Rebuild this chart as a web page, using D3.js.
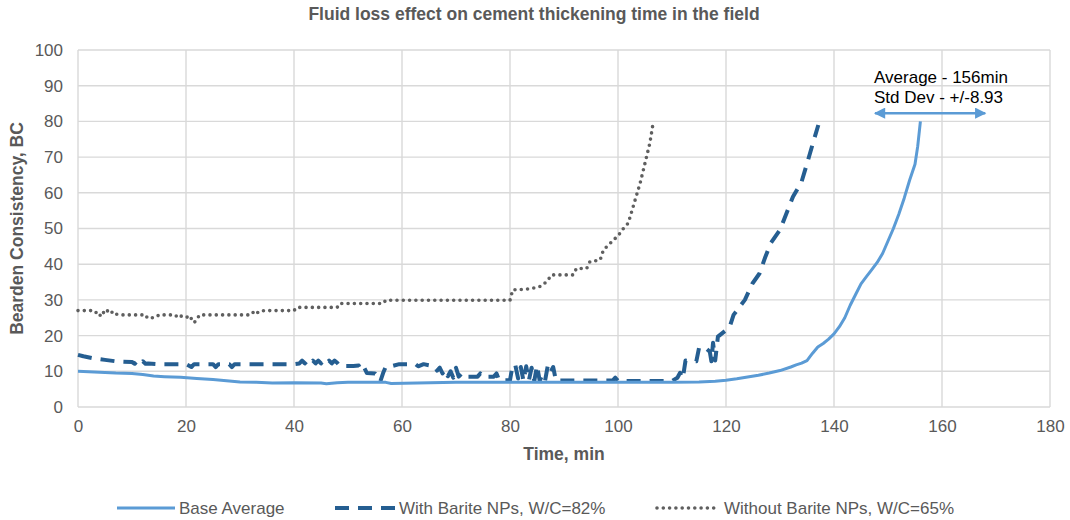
<!DOCTYPE html>
<html>
<head>
<meta charset="utf-8">
<script src="https://cdn.jsdelivr.net/npm/d3@7"></script>
<style>
  body { margin: 0; background: #fff; }
  svg { display: block; font-family: "Liberation Sans", Arial, sans-serif; }
</style>
</head>
<body>
<script>
// Base Average
var baseTime = [0, 3, 7, 10, 12, 14, 16, 19, 22, 25, 28, 30, 33, 36, 40, 45, 46, 48, 50, 57, 58, 70, 80, 90, 100, 110, 115, 118, 120, 122, 124, 126, 128, 130, 132, 133, 134, 135, 136, 137, 138, 139, 140, 141, 142, 143, 144, 145, 146, 147, 148, 149, 150, 151, 152, 153, 154, 155, 155.5, 156]
var baseVal  = [10, 9.8, 9.5, 9.4, 9.1, 8.7, 8.5, 8.3, 8.0, 7.7, 7.3, 7.0, 6.9, 6.7, 6.8, 6.7, 6.5, 6.8, 6.9, 6.9, 6.6, 6.9, 6.9, 6.9, 6.9, 6.9, 7.0, 7.2, 7.5, 7.9, 8.4, 8.9, 9.5, 10.2, 11.2, 11.8, 12.3, 13.0, 15.0, 16.8, 17.8, 19.0, 20.5, 22.5, 25.0, 28.5, 31.5, 34.5, 36.5, 38.5, 40.5, 43.0, 46.5, 50, 54, 58.5, 63.5, 68, 73, 80]

// With Barite NPs, W/C=82%
var withTime = [0, 1, 3, 5, 7, 10, 10.5, 11, 11.5, 12, 12.5, 13, 15, 20, 21, 21.5, 25, 25.5, 26, 28, 28.5, 29, 40,
  41, 41.5, 42, 42.5, 43, 43.5, 44, 44.5, 45, 45.5, 46, 46.5, 47, 47.5, 48, 48.5, 51, 52, 52.5, 53, 53.5, 55, 55.5, 56, 56.5, 57, 58, 59.5, 62.5, 63, 64, 66, 66.5,
  67, 67.5, 68, 68.5, 69, 69.5, 70, 70.5, 71, 71.5, 72, 74, 74.5, 75, 77, 77.5, 78, 80, 80.5, 81,
  81.5, 82, 82.5, 83, 83.5, 84, 84.5, 85, 85.5, 86, 86.5, 87, 87.5, 88, 88.5, 99, 99.5, 100, 110, 111,
  111.5, 112, 112.5, 114.5, 115, 116, 117, 117.3, 117.6, 118, 118.5, 120, 120.7, 121.4, 122.5, 123.5, 124.9, 126.2,
  127.3, 128.3, 130, 132.4, 134, 135.2, 136.1, 137.1]
var withVal = [14.6, 14.2, 13.6, 13.2, 12.8, 12.6, 12.1, 12.9, 12.1, 12.8, 12.1, 12.2, 12.0, 12.0, 11.2, 12, 12, 11.2, 12, 12, 11.2, 12, 12.0,
  12.2, 13.0, 12.2, 13.0, 12.2, 13.0, 12.2, 13.0, 12.2, 13.0, 12.2, 13.0, 12.2, 13.0, 12.4, 11.5, 11.5, 11.6, 10.2, 11, 9.5, 9.4, 8.6, 7.2, 9.5, 11.3, 11.4, 12, 12, 11.4, 12, 11.4, 10.2,
  11, 9.4, 10.5, 8.6, 10, 8.2, 11, 8.5, 9.3, 8.4, 8.5, 8.5, 9.4, 8.5, 8.5, 9.4, 7.5, 7.5, 11.8, 11.6,
  8, 11.2, 7.3, 11.4, 7.5, 11, 7.3, 11.6, 7.4, 9, 7.4, 11.6, 9.8, 11.2, 7.4, 7.4, 8.2, 7.3, 7.3, 8.2,
  9.6, 8, 13, 12.8, 16.5, 16.8, 15.5, 12.8, 18, 13, 19.7, 21.5, 22.5, 25.8, 28, 30, 34.6, 37.4,
  42.1, 45.9, 49.6, 58.9, 63.1, 69.2, 73.9, 79]

// Without Barite NPs, W/C=65%
var withoutTime = [0, 3, 3.5, 4, 4.5, 5, 5.5, 6, 6.5, 7, 8, 12, 12.5, 13, 13.5, 14.5, 15, 18, 18.5, 19,
  20, 20.7, 21, 21.5, 22, 22.5, 32, 32.5, 33, 33.5, 34.6, 40, 40.5, 48, 48.5, 56.5, 57, 80, 80.5, 83,
  85, 86, 87, 87.7, 91.7, 92.3, 94.2, 94.8, 96.7, 97.3, 99, 99.8, 100.4, 101, 101.9, 102.8, 104.1, 105, 105.9, 106.5, 106.8]
var withoutVal = [27, 27, 26.2, 25.4, 26.8, 26, 27, 26.2, 26.8, 26, 25.8, 25.8, 25, 25.4, 24.9, 25.2, 25.8, 25.8, 25, 25.5,
  25, 25.6, 24.7, 23.6, 24.5, 25.8, 25.8, 26.6, 26, 26.8, 27, 27, 27.9, 27.9, 29, 29, 29.9, 29.9, 32.8, 33,
  33.5, 34, 35.5, 37, 37, 38.8, 38.8, 40.7, 41.2, 44, 46.5, 47.7, 48.7, 50, 51.5, 56.1, 62.7, 68.3, 73.9, 79.5, 80]

var xTicks = [0, 20, 40, 60, 80, 100, 120, 140, 160, 180]
var yTicks = [0, 10, 20, 30, 40, 50, 60, 70, 80, 90, 100]

// annotation: average thickening time and spread arrow
var annoLines = ["Average - 156min", "Std Dev - +/-8.93"]
var arrowX = [147.6, 168]
var arrowY = 82.3

var seriesNames = ["Base Average", "With Barite NPs, W/C=82%", "Without Barite NPs, W/C=65%"]

var width = 1070
var height = 520
var margin = {top: 50, right: 20, bottom: 113, left: 78}
var innerW = width - margin.left - margin.right
var innerH = height - margin.top - margin.bottom

var textGray = "#595959"
var gridGray = "#d9d9d9"

var styles = [
  {color: "#5b9bd5", w: 3, dash: null, cap: "butt"},
  {color: "#255e91", w: 4, dash: "14,9", cap: "butt"},
  {color: "#5f5f5f", w: 3.6, dash: "0,6.3", cap: "round"}
]

var svg = d3.select("body").append("svg")
    .attr("width", width)
    .attr("height", height)

var g = svg.append("g")
    .attr("transform", `translate(${margin.left},${margin.top})`)

var x = d3.scaleLinear().domain([0, 180]).range([0, innerW])
var y = d3.scaleLinear().domain([0, 100]).range([innerH, 0])

// gridlines
g.append("g").selectAll("line.h")
  .data(yTicks)
  .enter().append("line")
  .attr("x1", 0).attr("x2", innerW)
  .attr("y1", d => y(d)).attr("y2", d => y(d))
  .attr("stroke", gridGray).attr("stroke-width", 1.4)

g.append("g").selectAll("line.v")
  .data(xTicks)
  .enter().append("line")
  .attr("y1", 0).attr("y2", innerH)
  .attr("x1", d => x(d)).attr("x2", d => x(d))
  .attr("stroke", gridGray).attr("stroke-width", 1.4)

// axes (labels only)
var xAxis = d3.axisBottom(x).tickValues(xTicks).tickSize(0).tickPadding(13)
var yAxis = d3.axisLeft(y).tickValues(yTicks).tickSize(0).tickPadding(15)

var xa = g.append("g").attr("transform", `translate(0,${innerH})`).call(xAxis)
var ya = g.append("g").call(yAxis)
;[xa, ya].forEach(a => {
  a.select(".domain").remove()
  a.selectAll("text")
    .style("font-family", "Liberation Sans, Arial, sans-serif")
    .style("font-size", "17px")
    .attr("fill", textGray)
})

// series lines
var line = d3.line().x(d => x(d[0])).y(d => y(d[1]))
var series = [
  d3.zip(baseTime, baseVal),
  d3.zip(withTime, withVal),
  d3.zip(withoutTime, withoutVal)
]

// draw dotted first, then dashed, then base on top
;[2, 1, 0].forEach(i => {
  var s = styles[i]
  g.append("path")
    .datum(series[i])
    .attr("d", line)
    .attr("fill", "none")
    .attr("stroke", s.color)
    .attr("stroke-width", s.w)
    .attr("stroke-linecap", s.cap)
    .attr("stroke-linejoin", "round")
    .attr("stroke-dasharray", s.dash)
})

// annotation arrow
var defs = svg.append("defs")
defs.append("marker")
    .attr("id", "arr")
    .attr("viewBox", "0 0 10 10")
    .attr("refX", 9).attr("refY", 5)
    .attr("markerWidth", 5.5).attr("markerHeight", 4.5)
    .attr("markerUnits", "strokeWidth")
    .attr("orient", "auto-start-reverse")
  .append("path")
    .attr("d", "M0,0 L10,5 L0,10 Z")
    .attr("fill", "#5b9bd5")

g.append("line")
  .attr("x1", x(arrowX[0])).attr("x2", x(arrowX[1]))
  .attr("y1", y(arrowY)).attr("y2", y(arrowY))
  .attr("stroke", "#5b9bd5").attr("stroke-width", 2.5)
  .attr("marker-start", "url(#arr)")
  .attr("marker-end", "url(#arr)")

g.selectAll("text.anno")
  .data(annoLines)
  .enter().append("text")
  .attr("class", "anno")
  .attr("x", x(arrowX[0]) - 1)
  .attr("y", (d, i) => y(arrowY) - 30 + i * 19.5)
  .style("font-size", "17px")
  .attr("fill", "#000")
  .text(d => d)

// titles
svg.append("text")
  .attr("x", 534).attr("y", 19.5)
  .attr("text-anchor", "middle")
  .style("font-size", "17.5px").style("font-weight", "bold")
  .attr("fill", textGray)
  .text("Fluid loss effect on cement thickening time in the field")

svg.append("text")
  .attr("x", margin.left + innerW / 2).attr("y", 460)
  .attr("text-anchor", "middle")
  .style("font-size", "17.5px").style("font-weight", "bold")
  .attr("fill", textGray)
  .text("Time, min")

svg.append("text")
  .attr("transform", `translate(23,${margin.top + innerH / 2}) rotate(-90)`)
  .attr("text-anchor", "middle")
  .style("font-size", "17.5px").style("font-weight", "bold")
  .attr("fill", textGray)
  .text("Bearden Consistency, BC")

// legend
var legendX = [117, 335, 657]
var legendLen = [58, 60, 63]
var legend = svg.selectAll(".legend")
  .data(seriesNames)
  .enter().append("g")
  .attr("class", "legend")
  .attr("transform", (d, i) => `translate(${legendX[i]},508)`)

legend.append("line")
  .attr("x1", 0).attr("x2", (d, i) => legendLen[i])
  .attr("stroke", (d, i) => styles[i].color)
  .attr("stroke-width", (d, i) => styles[i].w)
  .attr("stroke-linecap", (d, i) => styles[i].cap)
  .attr("stroke-dasharray", (d, i) => styles[i].dash)

legend.append("text")
  .attr("x", (d, i) => legendLen[i] + 4)
  .attr("dy", "0.35em")
  .style("font-size", "17px")
  .attr("fill", textGray)
  .text(d => d)
</script>
</body>
</html>
